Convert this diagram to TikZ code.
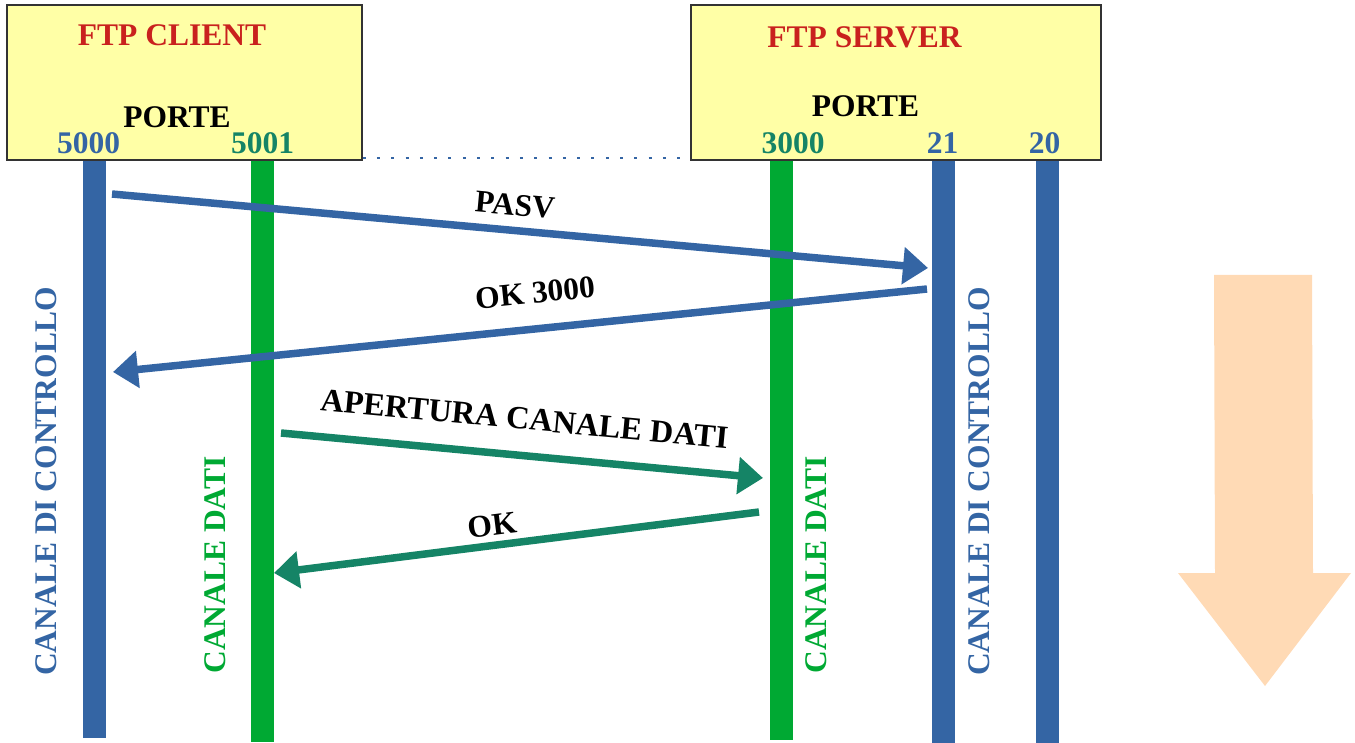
\documentclass[tikz,border=0pt]{standalone}
\usepackage{fontspec}
\setmainfont{Liberation Serif}
\usetikzlibrary{arrows.meta}
\definecolor{cblue}{HTML}{3465A4}
\definecolor{cgreen}{HTML}{00A933}
\definecolor{cteal}{HTML}{158466}
\definecolor{cred}{HTML}{C9211E}
\definecolor{cyellow}{HTML}{FFFFA6}
\definecolor{corange}{HTML}{FFDAB5}
\definecolor{cborder}{HTML}{333333}
\begin{document}
\begin{tikzpicture}[x=1pt,y=-1pt,
  txt/.style={font=\fontsize{31.5}{36}\selectfont\bfseries, inner sep=0pt},
  bigtxt/.style={font=\fontsize{32.3}{36}\selectfont\bfseries, inner sep=0pt},
  box/.style={draw=cborder, line width=1.3pt, fill=cyellow, inner sep=0pt},
  bar/.style={line width=23pt},
  msg/.style={line width=7.5pt, -{Triangle[length=25pt,width=36pt]}},
  dotline/.style={cblue, line width=2pt, dash pattern=on 3pt off 11.3pt}
]
\useasboundingbox (0,0) rectangle (1355,743);
% bars
\coordinate (b1t) at (94.5,160);  \coordinate (b1b) at (94.5,738);
\coordinate (b2t) at (262.5,160); \coordinate (b2b) at (262.5,742);
\coordinate (b3t) at (781,160);   \coordinate (b3b) at (781,740);
\coordinate (b4t) at (943,160);   \coordinate (b4b) at (943,743);
\coordinate (b5t) at (1047,160);  \coordinate (b5b) at (1047,743);
\draw[bar, cblue] (b1t) -- (b1b);
\draw[bar, cgreen] (b2t) -- (b2b);
\draw[bar, cgreen] (b3t) -- (b3b);
\draw[bar, cblue] (b4t) -- (b4b);
\draw[bar, cblue] (b5t) -- (b5b);
% boxes
\node[box, minimum width=355pt, minimum height=155pt] (client) at (184.5,82.5) {};
\node[box, minimum width=410pt, minimum height=155pt] (server) at (896,82.5) {};
\draw[dotline] ([yshift=3pt]client.south east) -- ([yshift=3pt]server.south west);
% box texts
\node[txt, text=cred] (tclient) at (172,35) {FTP CLIENT};
\node[txt] (pc) at (177,117) {PORTE};
\node[txt, text=cblue] (p5000) at (88.5,143.5) {5000};
\node[txt, text=cteal] (p5001) at (262.5,143.5) {5001};
\node[txt, text=cred] (tserver) at (864.5,37.5) {FTP SERVER};
\node[txt] (ps) at (865.5,106.5) {PORTE};
\node[txt, text=cteal] (p3000) at (793,143.5) {3000};
\node[txt, text=cblue] (p21) at (942.5,143.5) {21};
\node[txt, text=cblue] (p20) at (1044.5,143.5) {20};
% vertical labels
\node[txt, text=cblue, rotate=90] (lc1) at (46.5,481.5) {CANALE DI CONTROLLO};
\node[txt, text=cgreen, rotate=90] (ld1) at (215,565) {CANALE DATI};
\node[txt, text=cgreen, rotate=90] (ld2) at (816.5,565) {CANALE DATI};
\node[txt, text=cblue, rotate=90] (lc2) at (979,481.5) {CANALE DI CONTROLLO};
% message endpoints
\coordinate (m1s) at (112,194);  \coordinate (m1e) at (928,268);
\coordinate (m2s) at (927,289);  \coordinate (m2e) at (113,372);
\coordinate (m3s) at (281,433);  \coordinate (m3e) at (763,478);
\coordinate (m4s) at (759,512);  \coordinate (m4e) at (274,573);
\draw[msg, cblue] (m1s) -- (m1e);
\draw[msg, cblue] (m2s) -- (m2e);
\draw[msg, cteal] (m3s) -- (m3e);
\draw[msg, cteal] (m4s) -- (m4e);
% message labels
\node[txt, rotate=-5.25] (l1) at (515,205) {PASV};
\node[txt, rotate=5.9] (l2) at (535,293) {OK 3000};
\node[bigtxt, rotate=-5.33] (l3) at (524.5,419) {APERTURA CANALE DATI};
\node[txt, rotate=7.15] (l4) at (492,525) {OK};
% time arrow
\fill[corange] (1214,275) -- (1312,275) -- (1313,573) -- (1351,573) -- (1265,686) -- (1178,573) -- (1215,573) -- cycle;
\end{tikzpicture}
\end{document}
